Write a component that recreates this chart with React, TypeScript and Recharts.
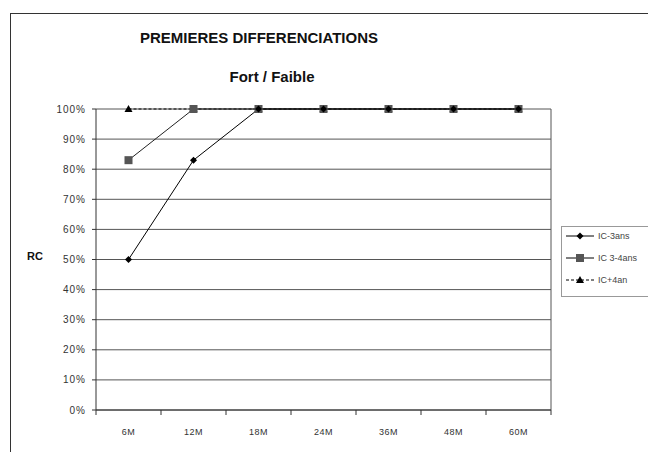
import React from "react";
import { LineChart, Line, XAxis, YAxis, CartesianGrid } from "recharts";

const categories = ["6M", "12M", "18M", "24M", "36M", "48M", "60M"];
const ic3ans = [50, 83, 100, 100, 100, 100, 100];
const ic34ans = [83, 100, 100, 100, 100, 100, 100];
const icPlus4an = [100, 100, 100, 100, 100, 100, 100];
const yTicks = [0, 10, 20, 30, 40, 50, 60, 70, 80, 90, 100];
const seriesNames = ["IC-3ans", "IC 3-4ans", "IC+4an"];

const data = categories.map((m, i) => ({
  m,
  a: ic3ans[i],
  b: ic34ans[i],
  c: icPlus4an[i],
}));

const W = 646;
const H = 439;
const PLOT_LEFT = 85;
const PLOT_RIGHT = 540;
const PLOT_TOP = 95;
const PLOT_BOTTOM = 396;
const BAND = (PLOT_RIGHT - PLOT_LEFT) / categories.length;
const FONT = "'Liberation Sans', Arial, sans-serif";

const Diamond = (props: any) => {
  const { cx, cy } = props;
  if (cx == null || cy == null) return null;
  return <polygon points={`${cx},${cy - 3.5} ${cx + 3.5},${cy} ${cx},${cy + 3.5} ${cx - 3.5},${cy}`} fill="#000" />;
};
const Square = (props: any) => {
  const { cx, cy } = props;
  if (cx == null || cy == null) return null;
  return <rect x={cx - 4} y={cy - 4} width={8} height={8} fill="#555" />;
};
const Triangle = (props: any) => {
  const { cx, cy } = props;
  if (cx == null || cy == null) return null;
  return <polygon points={`${cx},${cy - 4} ${cx + 4},${cy + 3} ${cx - 4},${cy + 3}`} fill="#000" />;
};

const XTick = (props: any) => {
  const { x, y, payload, index } = props;
  const left = x - BAND / 2;
  return (
    <g>
      <line x1={left} y1={y - 8} x2={left} y2={y - 3} stroke="#333" />
      {index === categories.length - 1 && (
        <line x1={x + BAND / 2} y1={y - 8} x2={x + BAND / 2} y2={y - 3} stroke="#333" />
      )}
      <text x={x} y={y + 17} textAnchor="middle" fontSize={9} letterSpacing={0.5} fill="#333" fontFamily={FONT}>
        {payload.value}
      </text>
    </g>
  );
};

const LegendBox = () => {
  const rows = [
    { name: seriesNames[0], dash: undefined, Shape: Diamond },
    { name: seriesNames[1], dash: undefined, Shape: Square },
    { name: seriesNames[2], dash: "3 2", Shape: Triangle },
  ];
  return (
    <svg width={100} height={72} style={{ position: "absolute", left: 550, top: 212 }}>
      <rect x={0.5} y={0.5} width={110} height={70} fill="#fff" stroke="#999" />
      {rows.map((r, i) => {
        const cy = 10 + i * 22;
        return (
          <g key={r.name}>
            <line x1={5} y1={cy} x2={33} y2={cy} stroke="#000" strokeDasharray={r.dash} />
            <r.Shape cx={19} cy={cy} />
            <text x={37} y={cy + 3} fontSize={9} fill="#444" fontFamily={FONT}>
              {r.name}
            </text>
          </g>
        );
      })}
    </svg>
  );
};

export default function App() {
  return (
    <div
      style={{
        position: "relative",
        marginLeft: 2,
        marginTop: 5,
        width: W,
        height: H,
        borderLeft: "1px solid #333",
        borderTop: "1px solid #333",
        fontFamily: FONT,
        background: "#fff",
      }}
    >
      <div
        style={{
          position: "absolute",
          left: 0,
          width: 496,
          top: 15,
          textAlign: "center",
          fontWeight: "bold",
          fontSize: 15,
          color: "#111",
        }}
      >
        PREMIERES DIFFERENCIATIONS
      </div>
      <div
        style={{
          position: "absolute",
          left: 0,
          width: 522,
          top: 54,
          textAlign: "center",
          fontWeight: "bold",
          fontSize: 15,
          color: "#111",
        }}
      >
        Fort / Faible
      </div>
      <div
        style={{
          position: "absolute",
          left: 16,
          top: 236,
          fontWeight: "bold",
          fontSize: 11,
          color: "#111",
        }}
      >
        RC
      </div>
      <LineChart
        width={W}
        height={H}
        data={data}
        margin={{ top: PLOT_TOP, right: W - PLOT_RIGHT, bottom: H - PLOT_BOTTOM - 30, left: PLOT_LEFT - 40 }}
      >
        <CartesianGrid
          stroke="#555"
          verticalCoordinatesGenerator={(p: any) => [p.offset.left + p.offset.width]}
        />
        <XAxis
          dataKey="m"
          height={30}
          stroke="#333"
          tickLine={false}
          tick={<XTick />}
          interval={0}
          padding={{ left: BAND / 2, right: BAND / 2 }}
        />
        <YAxis
          width={40}
          domain={[0, 100]}
          ticks={yTicks}
          tickFormatter={(v: number) => `${v}%`}
          stroke="#333"
          tickSize={4}
          tickMargin={6}
          tick={{ fontSize: 10, fill: "#333", fontFamily: FONT, letterSpacing: 1 }}
          interval={0}
        />
        <Line dataKey="c" stroke="#000" strokeDasharray="3 2" strokeWidth={1} dot={<Triangle />} isAnimationActive={false} />
        <Line dataKey="b" stroke="#222" strokeWidth={1} dot={<Square />} isAnimationActive={false} />
        <Line dataKey="a" stroke="#000" strokeWidth={1} dot={<Diamond />} isAnimationActive={false} />
      </LineChart>
      <LegendBox />
    </div>
  );
}
